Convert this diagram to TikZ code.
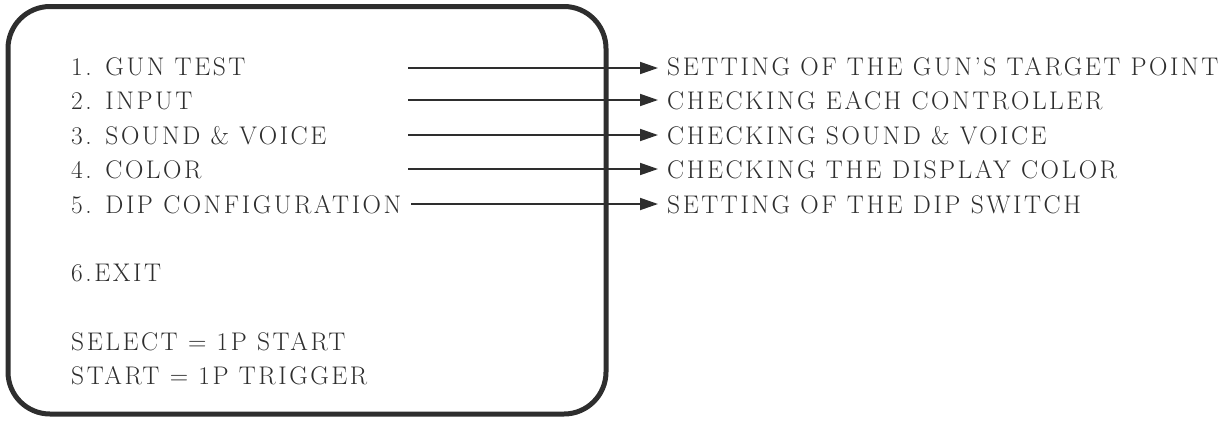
\documentclass[tikz,border=0pt]{standalone}
\usepackage{fontspec}
\setmainfont{Latin Modern Roman}[LetterSpace=10]
\usetikzlibrary{arrows.meta}
\definecolor{ink}{HTML}{2E2E2E}
\tikzset{
  txt/.style={anchor=base west, inner sep=0pt, text=ink, font=\fontsize{25.5}{30}\selectfont},
  arr/.style={ink, line width=1.8pt, -{Triangle[length=18pt,width=12pt]}},
  frame/.style={ink, line width=5pt, rounded corners=42pt}
}
\begin{document}
\begin{tikzpicture}[x=1pt,y=-1pt]
\useasboundingbox (0,0) rectangle (1227,421);
\draw[frame] (8,6.5) rectangle (606,414);
% left menu
\node[txt] (l1) at (71,75) {1. GUN TEST};
\node[txt] (l2) at (71,109.5) {2. INPUT};
\node[txt] (l3) at (71,144) {3. SOUND \& VOICE};
\node[txt] (l4) at (71,178.5) {4. COLOR};
\node[txt] (l5) at (71,213) {5. DIP CONFIGURATION};
\node[txt] (l6) at (71,281) {6.EXIT};
\node[txt] (l7) at (71,350) {SELECT = 1P START};
\node[txt] (l8) at (71,384) {START = 1P TRIGGER};
% right descriptions
\node[txt] (r1) at (667,75) {SETTING OF THE GUN'S TARGET POINT};
\node[txt] (r2) at (667,109.5) {CHECKING EACH CONTROLLER};
\node[txt] (r3) at (667,144) {CHECKING SOUND \& VOICE};
\node[txt] (r4) at (667,178.5) {CHECKING THE DISPLAY COLOR};
\node[txt] (r5) at (667,213) {SETTING OF THE DIP SWITCH};
% arrow starts
\coordinate (s1) at (408,68);
\coordinate (s2) at (408,100);
\coordinate (s3) at (408,135);
\coordinate (s4) at (408,169);
\coordinate (s5) at (411,204);
\foreach \i in {1,...,5}{
  \draw[arr, shorten >=9pt] (s\i) -- (s\i -| r\i.west);
}
\end{tikzpicture}
\end{document}
